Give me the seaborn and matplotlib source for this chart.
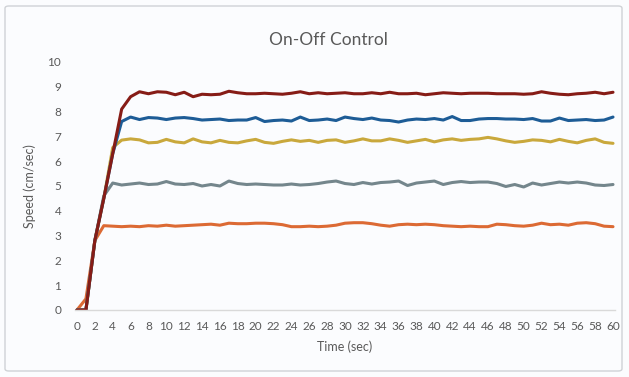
import matplotlib
matplotlib.use("Agg")
import matplotlib.pyplot as plt
from matplotlib.patches import FancyBboxPatch
import numpy as np
import pandas as pd
import seaborn as sns

# Time axis (seconds), one sample per second
time_sec = list(range(61))
x_tick_labels = [str(t) for t in range(0, 61, 2)]

speed_a = [0, 0.45, 2.8, 3.4, 3.38, 3.36, 3.38, 3.36, 3.4, 3.38, 3.42, 3.38, 3.4, 3.42, 3.44, 3.46,
           3.42, 3.5, 3.48, 3.48, 3.5, 3.5, 3.48, 3.44, 3.36, 3.36, 3.38, 3.36, 3.38, 3.42, 3.5,
           3.52, 3.52, 3.48, 3.42, 3.38, 3.44, 3.46, 3.44, 3.46, 3.44, 3.4, 3.38, 3.36, 3.38, 3.36,
           3.36, 3.46, 3.44, 3.4, 3.38, 3.42, 3.5, 3.44, 3.46, 3.42, 3.5, 3.52, 3.48, 3.38, 3.36]
speed_b = [0, 0, 2.8, 4.6, 5.12, 5.04, 5.08, 5.12, 5.06, 5.08, 5.18, 5.08, 5.06, 5.1, 5.0, 5.06,
           5.0, 5.2, 5.1, 5.06, 5.08, 5.06, 5.04, 5.04, 5.08, 5.04, 5.06, 5.1, 5.16, 5.2, 5.1,
           5.06, 5.14, 5.08, 5.14, 5.16, 5.2, 5.02, 5.12, 5.16, 5.2, 5.06, 5.14, 5.18, 5.14, 5.16,
           5.16, 5.1, 4.98, 5.06, 4.96, 5.12, 5.04, 5.1, 5.16, 5.12, 5.16, 5.12, 5.04, 5.02, 5.06]
speed_c = [0, 0, 2.8, 4.5, 6.55, 6.85, 6.9, 6.86, 6.74, 6.76, 6.88, 6.78, 6.74, 6.9, 6.78, 6.74,
           6.84, 6.76, 6.74, 6.82, 6.88, 6.76, 6.72, 6.8, 6.86, 6.8, 6.84, 6.76, 6.84, 6.86, 6.76,
           6.82, 6.9, 6.82, 6.82, 6.9, 6.84, 6.76, 6.82, 6.88, 6.78, 6.86, 6.9, 6.84, 6.88, 6.9,
           6.96, 6.9, 6.82, 6.76, 6.8, 6.86, 6.84, 6.78, 6.88, 6.8, 6.74, 6.84, 6.9, 6.76, 6.72]
speed_d = [0, 0, 2.8, 4.5, 6.3, 7.6, 7.78, 7.68, 7.76, 7.74, 7.68, 7.74, 7.76, 7.72, 7.66, 7.68,
           7.7, 7.64, 7.66, 7.66, 7.76, 7.6, 7.64, 7.66, 7.62, 7.78, 7.64, 7.66, 7.7, 7.64, 7.78,
           7.72, 7.68, 7.74, 7.66, 7.64, 7.58, 7.66, 7.7, 7.68, 7.72, 7.66, 7.8, 7.64, 7.64, 7.7,
           7.72, 7.72, 7.7, 7.7, 7.68, 7.72, 7.62, 7.62, 7.74, 7.64, 7.66, 7.68, 7.64, 7.66, 7.78]
speed_e = [0, 0, 2.8, 4.5, 6.3, 8.1, 8.6, 8.8, 8.72, 8.8, 8.78, 8.68, 8.78, 8.6, 8.7, 8.68,
           8.7, 8.82, 8.76, 8.72, 8.72, 8.74, 8.72, 8.7, 8.74, 8.8, 8.72, 8.76, 8.72, 8.74, 8.76,
           8.72, 8.72, 8.76, 8.72, 8.78, 8.72, 8.72, 8.74, 8.68, 8.72, 8.76, 8.74, 8.72, 8.74, 8.74,
           8.74, 8.72, 8.72, 8.72, 8.7, 8.72, 8.8, 8.74, 8.7, 8.68, 8.72, 8.74, 8.78, 8.72, 8.78]

series_names = ["A", "B", "C", "D", "E"]
series_values = [speed_a, speed_b, speed_c, speed_d, speed_e]
series_colors = ["#dc6a34", "#74868c", "#c9a83c", "#1d5c96", "#861c16"]

df = pd.concat(
    [pd.DataFrame({"Time": time_sec, "Speed": vals, "Series": name})
     for name, vals in zip(series_names, series_values)],
    ignore_index=True,
)

sns.set_theme(style="white")
plt.rcParams["font.family"] = ["Lato", "DejaVu Sans"]

bg = "#fbfcfe"
text_color = "#595959"

fig = plt.figure(figsize=(6.29, 3.77), dpi=100, facecolor=bg)
ax = fig.add_axes([75.2 / 629, 67 / 377, 539.6 / 629, 248 / 377])
ax.set_facecolor(bg)

sns.lineplot(data=df, x="Time", y="Speed", hue="Series", hue_order=series_names,
             palette=dict(zip(series_names, series_colors)), linewidth=2.2,
             legend=False, ax=ax)

ax.set_xlim(-0.2, 60.2)
ax.set_ylim(0, 10)
ax.set_xticks(range(0, 61, 2))
ax.set_xticklabels(x_tick_labels)
ax.set_yticks(range(0, 11))
ax.tick_params(axis="both", length=0, labelsize=8.5, colors=text_color)
ax.tick_params(axis="x", pad=8)
ax.tick_params(axis="y", pad=10)

for side in ["top", "right", "left"]:
    ax.spines[side].set_visible(False)
ax.spines["bottom"].set_color("#d9d9d9")
ax.spines["bottom"].set_linewidth(1.0)
ax.grid(False)

ax.set_xlabel("Time (sec)", fontsize=9, color=text_color, labelpad=6)
ax.set_ylabel("Speed (cm/sec)", fontsize=9, color=text_color, labelpad=8)
fig.text(328 / 629, 1 - 40 / 377, "On-Off Control", ha="center", va="center",
         fontsize=12.5, color=text_color)

# rounded frame around the chart area
frame = FancyBboxPatch((5 / 629, 6 / 377), 617 / 629, 365 / 377,
                       boxstyle="round,pad=0,rounding_size=0.006",
                       transform=fig.transFigure, fill=False,
                       edgecolor="#cfd2d6", linewidth=1.0)
fig.patches.append(frame)

fig.savefig("out.png", dpi=100, facecolor=bg)
